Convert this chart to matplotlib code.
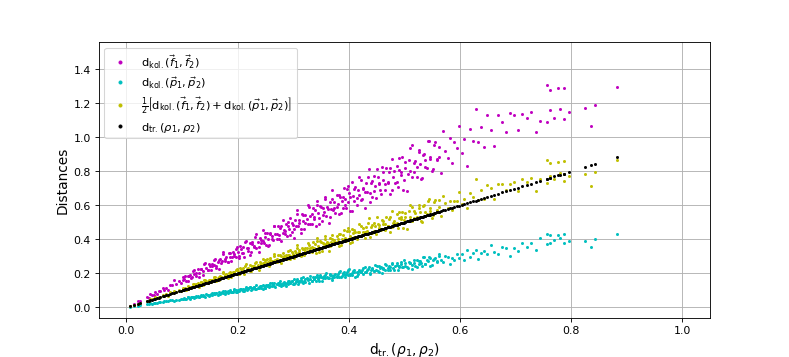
import numpy as np
import matplotlib
matplotlib.use("Agg")
import matplotlib.pyplot as plt

# d_tr(rho1, rho2) for each pair (also the y of the black series)
d_tr = np.array([
    0.007, 0.013, 0.020, 0.024, 0.037, 0.040, 0.043, 0.046, 0.049,
    0.052, 0.055, 0.058, 0.061, 0.065, 0.068, 0.072, 0.075, 0.079, 0.082, 0.086, 0.090, 0.094, 0.098,
    0.101, 0.104, 0.107, 0.110, 0.113, 0.116, 0.119, 0.122, 0.125, 0.128, 0.131, 0.134, 0.137, 0.140, 0.143, 0.146, 0.149,
    0.152, 0.154, 0.157, 0.159, 0.162, 0.164, 0.167, 0.169, 0.172, 0.174, 0.177, 0.179, 0.182, 0.184, 0.187, 0.189, 0.192, 0.194, 0.197, 0.199,
    0.201, 0.203, 0.205, 0.208, 0.210, 0.212, 0.215, 0.217, 0.219, 0.222, 0.224, 0.226, 0.229, 0.231, 0.233, 0.236, 0.238, 0.240, 0.242, 0.245, 0.247, 0.249,
    0.251, 0.253, 0.255, 0.257, 0.259, 0.261, 0.264, 0.266, 0.268, 0.270, 0.272, 0.274, 0.276, 0.278, 0.281, 0.283, 0.285, 0.287, 0.289, 0.291, 0.293, 0.295, 0.297, 0.299,
    0.301, 0.303, 0.305, 0.307, 0.309, 0.311, 0.314, 0.316, 0.318, 0.320, 0.322, 0.324, 0.326, 0.328, 0.331, 0.333, 0.335, 0.337, 0.339, 0.341, 0.343, 0.345, 0.347, 0.349,
    0.351, 0.353, 0.355, 0.357, 0.359, 0.361, 0.364, 0.366, 0.368, 0.370, 0.372, 0.374, 0.376, 0.378, 0.381, 0.383, 0.385, 0.387, 0.389, 0.391, 0.393, 0.395, 0.397, 0.399,
    0.401, 0.403, 0.405, 0.408, 0.410, 0.412, 0.415, 0.417, 0.419, 0.422, 0.424, 0.426, 0.429, 0.431, 0.433, 0.436, 0.438, 0.440, 0.442, 0.445, 0.447, 0.449,
    0.452, 0.454, 0.457, 0.460, 0.462, 0.465, 0.467, 0.470, 0.473, 0.475, 0.478, 0.480, 0.483, 0.486, 0.488, 0.491, 0.494, 0.496, 0.499,
    0.502, 0.505, 0.508, 0.511, 0.514, 0.517, 0.520, 0.523, 0.526, 0.529, 0.532, 0.535, 0.538, 0.541, 0.544, 0.547,
    0.551, 0.555, 0.559, 0.562, 0.566, 0.570, 0.574, 0.578, 0.582, 0.586, 0.590, 0.594, 0.598,
    0.603, 0.608, 0.613, 0.618, 0.623, 0.628, 0.633, 0.638, 0.643, 0.648,
    0.655, 0.662, 0.669, 0.676, 0.683, 0.690, 0.697,
    0.704, 0.712, 0.720, 0.728, 0.736, 0.744,
    0.757, 0.757, 0.762, 0.762, 0.770, 0.776, 0.780, 0.787, 0.787, 0.797,
    0.825, 0.836, 0.843, 0.882,
    0.102, 0.106, 0.110, 0.114, 0.118, 0.122, 0.126, 0.130, 0.134, 0.138, 0.142, 0.146, 0.150, 0.154, 0.158, 0.162, 0.166,
    0.170, 0.174, 0.178, 0.182, 0.186, 0.190, 0.194, 0.198, 0.202, 0.206, 0.210, 0.214, 0.218, 0.222, 0.226, 0.230, 0.234,
    0.238, 0.242, 0.246, 0.250, 0.254, 0.258, 0.262, 0.266, 0.270, 0.274, 0.278, 0.282, 0.286, 0.290, 0.294, 0.298, 0.302,
    0.306, 0.310, 0.314, 0.318, 0.322, 0.326, 0.330, 0.334, 0.338, 0.342, 0.346, 0.350, 0.354, 0.358, 0.362, 0.366, 0.370,
    0.374, 0.378, 0.382, 0.386, 0.390, 0.394, 0.398, 0.402, 0.406, 0.410, 0.414, 0.418, 0.422, 0.426, 0.430, 0.434, 0.438,
    0.442, 0.446, 0.450, 0.454, 0.458, 0.462, 0.466, 0.470, 0.474, 0.478, 0.482, 0.486, 0.490, 0.494, 0.498, 0.502, 0.506,
    0.510, 0.514, 0.518, 0.522, 0.526, 0.530, 0.534, 0.538, 0.542, 0.546, 0.550, 0.554, 0.558, 0.562])

# d_kol(f1, f2)
d_kol_f = np.array([
    0.011, 0.019, 0.035, 0.037, 0.062, 0.056, 0.078, 0.074, 0.074,
    0.089, 0.080, 0.096, 0.096, 0.116, 0.102, 0.117, 0.102, 0.134, 0.129, 0.160, 0.139, 0.156, 0.144,
    0.176, 0.165, 0.153, 0.186, 0.182, 0.175, 0.214, 0.198, 0.185, 0.224, 0.203, 0.225, 0.192, 0.255, 0.229, 0.222, 0.255,
    0.220, 0.254, 0.248, 0.283, 0.243, 0.267, 0.227, 0.287, 0.270, 0.324, 0.273, 0.297, 0.268, 0.320, 0.297, 0.270, 0.324, 0.312, 0.297, 0.358,
    0.326, 0.300, 0.359, 0.322, 0.353, 0.297, 0.391, 0.347, 0.333, 0.380, 0.325, 0.373, 0.362, 0.411, 0.350, 0.385, 0.324, 0.408, 0.380, 0.456, 0.380, 0.413,
    0.369, 0.440, 0.405, 0.368, 0.438, 0.420, 0.399, 0.479, 0.434, 0.400, 0.476, 0.425, 0.464, 0.389, 0.511, 0.453, 0.433, 0.491, 0.419, 0.480, 0.463, 0.525, 0.446, 0.487,
    0.409, 0.515, 0.479, 0.571, 0.476, 0.516, 0.462, 0.550, 0.506, 0.458, 0.544, 0.522, 0.492, 0.590, 0.536, 0.493, 0.586, 0.522, 0.570, 0.477, 0.624, 0.552, 0.527, 0.597,
    0.509, 0.582, 0.561, 0.635, 0.539, 0.588, 0.495, 0.622, 0.578, 0.688, 0.573, 0.621, 0.553, 0.658, 0.606, 0.548, 0.651, 0.623, 0.587, 0.704, 0.637, 0.585, 0.695, 0.618,
    0.674, 0.564, 0.737, 0.653, 0.623, 0.705, 0.602, 0.688, 0.662, 0.751, 0.636, 0.694, 0.583, 0.733, 0.680, 0.811, 0.675, 0.730, 0.650, 0.774, 0.711, 0.642,
    0.764, 0.731, 0.690, 0.828, 0.748, 0.688, 0.817, 0.729, 0.795, 0.665, 0.870, 0.768, 0.734, 0.831, 0.708, 0.810, 0.781, 0.883, 0.749,
    0.818, 0.687, 0.864, 0.802, 0.956, 0.796, 0.863, 0.769, 0.915, 0.841, 0.761, 0.904, 0.866, 0.817, 0.979, 0.886,
    0.815, 0.971, 0.866, 0.944, 0.792, 1.037, 0.918, 0.879, 0.995, 0.850, 0.974, 0.939, 1.064,
    0.905, 0.991, 0.834, 1.051, 0.978, 1.168, 0.975, 1.059, 0.945, 1.128,
    1.041, 0.947, 1.131, 1.088, 1.031, 1.142, 1.129,
    1.042, 1.137, 1.116, 1.148, 1.030, 1.096,
    1.305, 1.092, 1.275, 1.160, 1.113, 1.288, 1.168, 1.292, 1.110, 1.150,
    1.172, 1.068, 1.188, 1.296,
    0.160, 0.183, 0.158, 0.189, 0.179, 0.218, 0.203, 0.181, 0.228, 0.214, 0.261, 0.218, 0.246, 0.243, 0.278, 0.230, 0.279,
    0.260, 0.315, 0.285, 0.266, 0.320, 0.296, 0.305, 0.343, 0.291, 0.342, 0.319, 0.383, 0.351, 0.309, 0.384, 0.357, 0.431,
    0.355, 0.397, 0.389, 0.440, 0.361, 0.433, 0.401, 0.481, 0.432, 0.400, 0.478, 0.440, 0.449, 0.502, 0.423, 0.495, 0.459,
    0.548, 0.499, 0.436, 0.541, 0.499, 0.600, 0.492, 0.548, 0.534, 0.602, 0.491, 0.588, 0.542, 0.648, 0.579, 0.534, 0.636,
    0.583, 0.593, 0.661, 0.556, 0.647, 0.599, 0.712, 0.647, 0.564, 0.697, 0.642, 0.769, 0.629, 0.699, 0.679, 0.764, 0.622,
    0.743, 0.682, 0.815, 0.726, 0.669, 0.795, 0.727, 0.738, 0.820, 0.688, 0.800, 0.739, 0.877, 0.795, 0.692, 0.853, 0.784,
    0.938, 0.766, 0.850, 0.825, 0.926, 0.753, 0.897, 0.823, 0.981, 0.874, 0.803, 0.953, 0.870, 0.882])

# d_kol(p1, p2)
d_kol_p = np.array([
    0.004, 0.006, 0.011, 0.012, 0.019, 0.018, 0.024, 0.022, 0.025,
    0.028, 0.025, 0.029, 0.032, 0.031, 0.038, 0.035, 0.035, 0.042, 0.042, 0.038, 0.045, 0.044, 0.052,
    0.049, 0.054, 0.049, 0.061, 0.054, 0.059, 0.064, 0.055, 0.063, 0.067, 0.063, 0.075, 0.067, 0.066, 0.076, 0.074, 0.066,
    0.076, 0.072, 0.083, 0.078, 0.084, 0.075, 0.092, 0.081, 0.088, 0.094, 0.080, 0.090, 0.095, 0.088, 0.105, 0.093, 0.090, 0.103, 0.100, 0.088,
    0.101, 0.095, 0.109, 0.102, 0.109, 0.098, 0.118, 0.104, 0.112, 0.120, 0.101, 0.113, 0.119, 0.111, 0.130, 0.116, 0.112, 0.127, 0.123, 0.108, 0.124, 0.117,
    0.133, 0.124, 0.133, 0.118, 0.142, 0.125, 0.135, 0.144, 0.121, 0.135, 0.141, 0.132, 0.155, 0.136, 0.132, 0.150, 0.145, 0.126, 0.145, 0.137, 0.155, 0.145, 0.154, 0.138,
    0.166, 0.145, 0.156, 0.166, 0.139, 0.156, 0.163, 0.152, 0.178, 0.157, 0.151, 0.172, 0.166, 0.144, 0.166, 0.157, 0.178, 0.165, 0.176, 0.157, 0.189, 0.166, 0.177, 0.188,
    0.158, 0.177, 0.185, 0.171, 0.201, 0.177, 0.171, 0.194, 0.188, 0.163, 0.186, 0.176, 0.199, 0.185, 0.198, 0.176, 0.212, 0.186, 0.198, 0.211, 0.177, 0.198, 0.206, 0.192,
    0.225, 0.197, 0.190, 0.216, 0.209, 0.181, 0.208, 0.196, 0.222, 0.207, 0.220, 0.196, 0.236, 0.207, 0.221, 0.235, 0.197, 0.220, 0.230, 0.214, 0.250, 0.220,
    0.212, 0.241, 0.233, 0.202, 0.231, 0.219, 0.248, 0.230, 0.246, 0.219, 0.263, 0.230, 0.246, 0.262, 0.220, 0.246, 0.257, 0.238, 0.279,
    0.246, 0.237, 0.269, 0.261, 0.226, 0.259, 0.244, 0.277, 0.258, 0.275, 0.245, 0.294, 0.258, 0.276, 0.294, 0.246,
    0.276, 0.289, 0.268, 0.315, 0.277, 0.268, 0.304, 0.295, 0.256, 0.293, 0.277, 0.315, 0.293,
    0.314, 0.280, 0.337, 0.297, 0.318, 0.339, 0.285, 0.319, 0.334, 0.311,
    0.367, 0.324, 0.314, 0.358, 0.348, 0.304, 0.349,
    0.331, 0.377, 0.353, 0.379, 0.339, 0.409,
    0.432, 0.372, 0.428, 0.380, 0.395, 0.425, 0.408, 0.430, 0.377, 0.392,
    0.392, 0.358, 0.401, 0.432,
    0.052, 0.051, 0.059, 0.052, 0.061, 0.060, 0.069, 0.061, 0.067, 0.073, 0.064, 0.074, 0.074, 0.083, 0.076, 0.084, 0.076,
    0.087, 0.084, 0.096, 0.084, 0.097, 0.093, 0.107, 0.093, 0.101, 0.109, 0.095, 0.109, 0.107, 0.120, 0.108, 0.120, 0.108,
    0.121, 0.116, 0.133, 0.115, 0.132, 0.126, 0.144, 0.125, 0.135, 0.145, 0.125, 0.144, 0.140, 0.157, 0.141, 0.155, 0.139,
    0.156, 0.149, 0.170, 0.146, 0.167, 0.160, 0.182, 0.157, 0.169, 0.181, 0.156, 0.179, 0.173, 0.193, 0.174, 0.190, 0.170,
    0.191, 0.181, 0.206, 0.178, 0.203, 0.193, 0.219, 0.189, 0.203, 0.217, 0.186, 0.213, 0.207, 0.230, 0.206, 0.226, 0.201,
    0.225, 0.214, 0.243, 0.209, 0.238, 0.226, 0.256, 0.221, 0.237, 0.253, 0.217, 0.248, 0.240, 0.267, 0.239, 0.261, 0.233,
    0.260, 0.247, 0.280, 0.240, 0.274, 0.260, 0.294, 0.253, 0.271, 0.289, 0.248, 0.283, 0.273, 0.303])

d_mean = (d_kol_f + d_kol_p) / 2

labels = [r'$\mathrm{d}_{\mathrm{kol.}}(\vec{f}_1,\vec{f}_2)$',
          r'$\mathrm{d}_{\mathrm{kol.}}(\vec{p}_1,\vec{p}_2)$',
          r'$\frac{1}{2}\left[\mathrm{d}_{\mathrm{kol.}}(\vec{f}_1,\vec{f}_2)+\mathrm{d}_{\mathrm{kol.}}(\vec{p}_1,\vec{p}_2)\right]$',
          r'$\mathrm{d}_{\mathrm{tr.}}(\rho_1,\rho_2)$']

fig = plt.figure(figsize=(10, 4.537))
ax = fig.add_subplot(111)
ms, mew = 3.8, 0.8
ax.plot(d_tr, d_kol_f, '.', color='m', markersize=ms, markeredgewidth=mew, label=labels[0])
ax.plot(d_tr, d_kol_p, '.', color='c', markersize=ms, markeredgewidth=mew, label=labels[1])
ax.plot(d_tr, d_mean, '.', color='y', markersize=ms, markeredgewidth=mew, label=labels[2])
ax.plot(d_tr, d_tr, '.', color='k', markersize=ms, markeredgewidth=mew, label=labels[3])

ax.set_xlim(-0.05, 1.05)
ax.set_ylim(-0.06, 1.56)
ax.set_xticks(np.arange(0, 1.01, 0.2))
ax.set_yticks(np.arange(0, 1.41, 0.2))
ax.grid(True)
ax.set_xlabel(labels[3], fontsize=12.5)
ax.set_ylabel('Distances', fontsize=12.5)
ax.legend(loc='upper left', fontsize=10.5, markerscale=1.5, labelspacing=0.4)

fig.savefig('out.png', dpi=78.9)
